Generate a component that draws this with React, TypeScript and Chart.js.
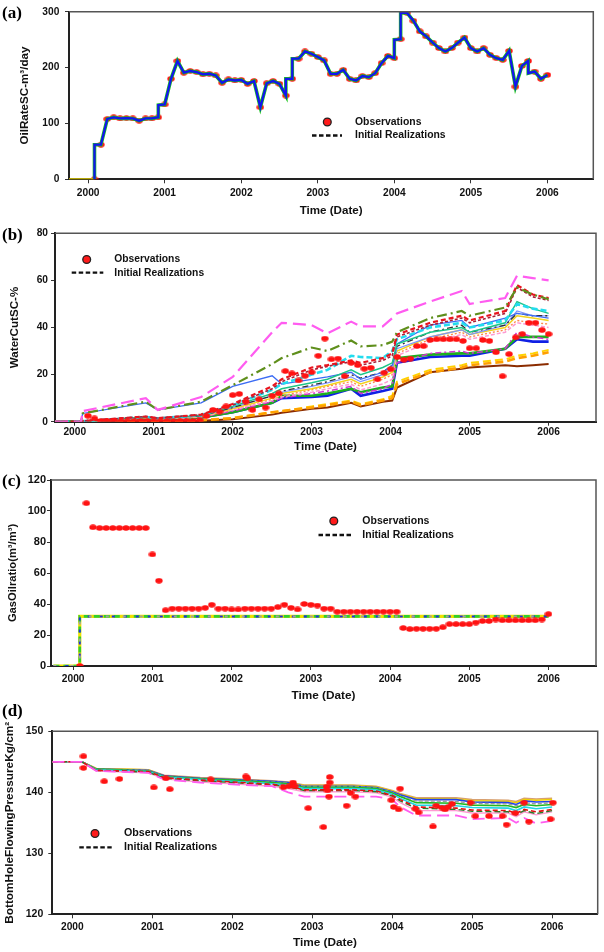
import React, { useEffect, useRef } from "react";
import { Chart, registerables } from "chart.js";
Chart.register(...registerables);

const FONT = "'Liberation Sans', Arial, Helvetica, sans-serif";
const SERIF = "'Liberation Serif', 'Times New Roman', serif";
const PAGE_W = 604;

const YEAR_TICKS = [2000, 2001, 2002, 2003, 2004, 2005, 2006];

// ---------------- (a) Oil rate ----------------
const obsAFirstMonth = 1;
const obsAValues = [
  0, 62, 108, 111, 109, 109.5, 109, 105, 109, 109, 111, 134,
  180, 212, 191, 194, 192, 188, 189, 186, 173, 179, 177, 178,
  171, 176, 129, 172, 176, 171, 150, 180, 216, 229, 225, 219,
  213, 189, 189, 196, 180, 177, 185, 183, 190, 208, 221, 217,
  251, 298, 284, 265, 256, 245, 235, 229, 235, 245, 254, 235,
  229, 235, 223, 217, 214, 230, 166, 203, 212, 193, 180, 187,
];
const simATimes = [
  2000.083, 2000.083, 2000.167, 2000.25, 2000.333, 2000.417, 2000.5, 2000.583, 2000.667, 2000.75, 2000.833,
  2000.917, 2000.917, 2001.0, 2001.083, 2001.167, 2001.25, 2001.333, 2001.417, 2001.5, 2001.583, 2001.667,
  2001.75, 2001.833, 2001.917, 2002.0, 2002.083, 2002.167, 2002.25, 2002.333, 2002.417, 2002.5, 2002.583,
  2002.583, 2002.667, 2002.667, 2002.75, 2002.833, 2002.917, 2003.0, 2003.083, 2003.167, 2003.25, 2003.333,
  2003.417, 2003.5, 2003.583, 2003.667, 2003.75, 2003.833, 2003.917, 2004.0, 2004.0, 2004.083, 2004.083,
  2004.167, 2004.25, 2004.333, 2004.417, 2004.5, 2004.583, 2004.667, 2004.75, 2004.833, 2004.917, 2005.0,
  2005.083, 2005.167, 2005.25, 2005.333, 2005.417, 2005.5, 2005.583, 2005.667, 2005.75, 2005.75, 2005.833,
  2005.917, 2006.0,
];
const simAValues = [
  0, 62, 62, 108, 111, 109, 109.5, 109, 105, 109, 109,
  111, 133, 134, 180, 212, 191, 194, 192, 188, 189, 186,
  173, 179, 177, 178, 171, 176, 129, 172, 176, 171, 150,
  180, 180, 216, 216, 229, 225, 219, 213, 189, 189, 196,
  180, 177, 185, 183, 190, 208, 221, 217, 250, 251, 298,
  298, 284, 265, 256, 245, 235, 229, 235, 245, 254, 235,
  229, 235, 223, 217, 214, 230, 166, 203, 212, 190, 193,
  180, 187,
];
const preATimes = [1999.75, 2000.083];
const preAValues = [0, 0];

// ---------------- (b) Water cut ----------------
const obsBFirstMonth = 2;
const obsBValues = [
  2.5, 1.4, 0.3, 0.3, 0.3, 0.2, 0.2, 0.2, 0.3, 0.3,
  0.2, 0.2, 0.2, 0.2, 0.3, 0.3, 0.3, 0.6, 2.4, 5.0, 4.3, 6.5,
  11.3, 11.8, 8.5, 5.0, 9.5, 6.0, 11.0, 12.0, 21.5, 20.5, 17.5, 19.5,
  21.0, 28.0, 35.3, 26.5, 26.8, 19.3, 25.0, 24.0, 22.5, 22.9, 18.0, 20.8,
  22.3, 27.5, 26.3, 26.8, 32.1, 32.1, 34.7, 35.0, 35.0, 35.0, 35.0, 34.3,
  31.2, 31.2, 34.7, 34.3, 29.5, 19.3, 28.7, 35.8, 37.2, 42.0, 42.0, 38.9,
  37.2,
];
const simBTimes = [1999.75, 2000.08, 2000.1, 2000.9, 2001.05, 2001.6, 2002.0, 2002.5, 2002.62, 2003.0, 2003.2, 2003.5,
  2003.62, 2003.9, 2004.02, 2004.08, 2004.5, 2004.9, 2005.0, 2005.45, 2005.6, 2005.8, 2006.0];
const wcMagenta = [0, 0, 4.5, 10, 5, 10.5, 19, 38, 42, 41, 37.5, 42.5, 40.5, 40.5, 44, 46, 51, 55.5, 50, 52.5, 62, 61, 60];
const wcOlive = [0, 0, 3.5, 8.5, 5, 8.5, 15.5, 24.5, 27, 31.5, 30, 34.5, 32, 32.5, 34, 38, 44, 47, 45, 48.5, 57, 54, 52];
const wcBlueThin = [0, 0, 3.5, 8, 5, 8, 15, 19.5, 16, 18, 19, 21, 18, 21, 24, 33, 41, 43, 40, 44, 46, 45, 44];
const wcRed = [0, 0, 0.3, 2.2, 1.5, 3, 7.5, 15, 18, 23, 24, 26, 25, 27, 29, 37, 42, 45, 43, 47, 58, 54, 52.5];
const wcMaroon = [0, 0, 0.3, 2.2, 1.5, 3, 7, 14, 17, 22, 23.5, 25.5, 24, 26, 28, 36, 41, 44, 42, 46, 57, 53, 51.5];
const wcCyan = [0, 0, 0.2, 2, 1.4, 2.8, 7, 13.5, 16, 20, 22, 28, 27.5, 27, 30, 35, 40, 42, 40, 43, 50, 48, 47];
const wcTeal = [0, 0, 0.2, 2, 1.4, 2.6, 6.5, 12, 14, 16.5, 18, 22, 20, 23, 25, 33, 38, 40, 38, 42, 51, 48, 46];
const wcGray = [0, 0, 0.2, 1.8, 1.3, 2.5, 6, 11, 13, 15.5, 17, 20, 18.5, 21, 24, 32, 38, 41, 38, 41, 46, 45, 45];
const wcLightBlue = [0, 0, 0.2, 1.8, 1.3, 2.4, 6, 11, 12.5, 15, 16.5, 19, 17, 20, 22, 31, 36, 39, 37, 41, 47, 45, 45];
const wcYellow = [0, 0, 0.2, 1.6, 1.2, 2.3, 5.5, 10, 12, 14, 15.5, 18, 16, 19, 21, 30, 36, 39, 37, 40, 45, 44, 43];
const wcPink = [0, 0, 0.1, 1.5, 1.1, 2, 5, 9, 10.5, 12.5, 14, 16, 13.5, 16, 18, 28, 34, 37, 35, 38, 42, 41, 40];
const wcSalmon = [0, 0, 0.1, 1.5, 1.1, 2, 5, 9.5, 11, 13.5, 15, 17, 15, 18, 20, 29, 35, 38, 36, 39, 43, 42, 41.5];
const wcPurple = [0, 0, 0.1, 1.4, 1, 2, 4.5, 8.5, 10, 12, 13, 15, 12, 14, 16, 25, 29, 30, 29, 31, 38, 36, 35];
const wcGreen = [0, 0, 0.1, 1.2, 1, 1.8, 4, 8, 11, 11, 12, 14, 12.5, 14.5, 15, 27, 28.5, 29, 29, 31, 36, 36, 36];
const wcBlue = [0, 0, 0.1, 1.2, 1, 1.8, 4, 8, 10, 10.5, 11, 14, 11, 13, 14, 25, 27.5, 28, 28, 31, 35, 34, 34];
const wcOrange = [0, 0, 0, 0.3, 0.3, 0.6, 1.5, 4, 4.5, 6, 7, 8.5, 7, 9, 10, 16, 21, 23, 24, 25.5, 27, 28, 29.5];
const wcGold = [0, 0, 0, 0.3, 0.3, 0.6, 1.5, 4, 4.5, 6.5, 7.5, 9, 7.5, 9.5, 11, 17, 22, 24, 25, 26.5, 28, 29, 30.5];
const wcBrown = [0, 0, 0, 0.2, 0.2, 0.4, 1, 3, 3.8, 5.5, 6, 8, 6.5, 8.5, 9, 14.5, 21, 22.5, 23, 24, 23.5, 24, 24.5];

// ---------------- (c) Gas oil ratio ----------------
const obsCFirstMonth = 1;
const obsCValues = [
  0, 105, 89.5, 89, 89, 89, 89, 89, 89, 89, 89, 72,
  55, 36, 37, 37, 37, 37, 37, 37.5, 39.5, 37, 37, 36.5,
  36.5, 37, 37, 37, 37, 37, 38, 39.5, 37.5, 36.5, 40, 39.5,
  39, 37, 37, 35, 35, 35, 35, 35, 35, 35, 35, 35,
  35, 24.5, 23.8, 24, 24, 24, 24, 25, 27, 27, 27, 27,
  28, 29, 29, 30, 29.5, 29.5, 29.5, 29.5, 29.5, 29.5, 30, 33.5,
];
const simCTimes = [1999.75, 2000.083, 2000.083, 2006.0];
const simCValues = [0, 0, 32, 32];

// ---------------- (d) Bottom hole pressure ----------------
const obsDTimes = [
  2000.14, 2000.14, 2000.4, 2000.59, 2001.02, 2001.17, 2001.22, 2001.73, 2002.17, 2002.19, 2002.64, 2002.71,
  2002.76, 2002.78, 2002.95, 2003.14, 2003.18, 2003.19, 2003.21, 2003.22, 2003.22, 2003.43, 2003.48, 2003.54,
  2003.99, 2004.02, 2004.08, 2004.1, 2004.29, 2004.33, 2004.51, 2004.55, 2004.62, 2004.66, 2004.7, 2004.75,
  2004.98, 2005.04, 2005.21, 2005.38, 2005.43, 2005.54, 2005.65, 2005.71, 2005.98, 2006.01,
];
const obsDValues = [
  145.9, 144.0, 141.8, 142.2, 140.8, 142.3, 140.5, 142.1, 142.6, 142.3, 140.8, 141.0,
  141.6, 141.0, 137.4, 134.3, 140.9, 140.3, 139.3, 142.5, 141.6, 137.8, 139.9, 139.3,
  138.7, 137.6, 137.2, 140.6, 137.3, 136.7, 134.4, 137.8, 137.5, 137.2, 137.6, 138.1,
  138.3, 136.1, 136.1, 136.1, 134.7, 136.6, 138.3, 135.2, 135.6, 138.3,
];
const simDTimes = [1999.75, 2000.12, 2000.3, 2000.95, 2001.15, 2001.6, 2002.0, 2002.5, 2002.7, 2002.9, 2003.5,
  2003.8, 2004.0, 2004.1, 2004.3, 2004.8, 2005.0, 2005.45, 2005.55, 2005.65, 2005.8, 2006.0];
const bhpTan = [145, 145, 143.9, 143.7, 142.8, 142.4, 142.2, 141.9, 141.7, 141.2, 141.2, 141.0, 140.3, 139.8, 139.1, 139.1, 138.8, 138.7, 138.5, 139.0, 138.9, 139.0];
const bhpYellow = [145, 145, 143.9, 143.7, 142.7, 142.3, 142.1, 141.8, 141.6, 141.1, 141.1, 140.9, 140.2, 139.7, 139.0, 138.9, 138.6, 138.5, 138.3, 138.8, 138.7, 138.8];
const bhpBlue = [145, 145, 143.8, 143.6, 142.7, 142.3, 142.1, 141.8, 141.6, 141.0, 141.0, 140.8, 140.1, 139.6, 138.8, 138.8, 138.4, 138.3, 138.0, 138.6, 138.4, 138.5];
const bhpGray = [145, 145, 143.8, 143.6, 142.6, 142.2, 142.0, 141.7, 141.5, 141.0, 141.0, 140.7, 140.0, 139.4, 138.6, 138.5, 138.2, 138.1, 137.8, 138.3, 138.1, 138.3];
const bhpGreen = [145, 145, 143.8, 143.5, 142.6, 142.2, 142.0, 141.6, 141.4, 140.8, 140.8, 140.6, 139.9, 139.3, 138.3, 138.2, 137.9, 137.8, 137.5, 138.0, 137.8, 138.0];
const bhpCyan = [145, 145, 143.7, 143.4, 142.5, 142.1, 141.8, 141.4, 141.2, 140.6, 140.6, 140.4, 139.7, 139.0, 137.9, 137.8, 137.5, 137.4, 137.0, 137.6, 137.3, 137.6];
const bhpRed = [145, 145, 143.6, 143.4, 142.4, 142.0, 141.7, 141.3, 141.0, 140.4, 140.4, 140.2, 139.5, 138.8, 137.6, 137.4, 137.1, 137.0, 136.5, 137.2, 136.8, 137.2];
const bhpDarkGreen = [145, 145, 143.6, 143.3, 142.3, 141.9, 141.6, 141.2, 140.9, 140.3, 140.3, 140.1, 139.4, 138.6, 137.4, 137.2, 136.9, 136.8, 136.3, 137.0, 136.5, 137.0];
const bhpPink = [145, 145, 143.5, 143.2, 142.2, 141.7, 141.4, 141.0, 140.6, 140.1, 140.1, 139.9, 139.2, 138.3, 137.0, 137.0, 136.6, 136.6, 136.0, 136.8, 136.3, 136.8];
const bhpMagenta = [145, 145, 143.5, 143.2, 142.1, 141.6, 141.3, 141.0, 140.0, 139.3, 139.3, 139.3, 138.8, 137.6, 136.2, 136.2, 135.6, 135.8, 135.0, 135.8, 134.9, 135.3];

// ---------------- helpers ----------------
const pts = (xs: number[], ys: number[]) => xs.map((x, i) => ({ x, y: ys[i] }));
const monthPts = (first: number, ys: number[]) => ys.map((y, i) => ({ x: 2000 + (first + i) / 12, y }));

let dotCache: HTMLCanvasElement | null = null;
function dot(): HTMLCanvasElement {
  if (dotCache) return dotCache;
  const c = document.createElement("canvas");
  c.width = 8;
  c.height = 6;
  const g = c.getContext("2d")!;
  g.fillStyle = "#ff1212";
  g.beginPath();
  g.ellipse(4, 3, 3.7, 2.7, 0, 0, Math.PI * 2);
  g.fill();
  dotCache = c;
  return c;
}

const line = (data: any[], color: string, width: number, dash: number[] = []) => ({
  data,
  borderColor: color,
  backgroundColor: color,
  borderWidth: width,
  borderDash: dash,
  pointRadius: 0,
  fill: false,
  tension: 0,
});
const obs = (data: any[]) => ({
  data,
  showLine: false,
  pointStyle: dot(),
  pointRadius: 4,
  borderWidth: 0,
  borderColor: "#ff1212",
  backgroundColor: "#ff1212",
});

const decorPlugin = {
  id: "decor",
  afterDraw(chart: any, _args: any, o: any) {
    const { ctx, chartArea: a } = chart;
    ctx.save();
    ctx.strokeStyle = "#555";
    ctx.lineWidth = 1.5;
    ctx.setLineDash([]);
    ctx.beginPath();
    ctx.moveTo(a.left, a.top);
    ctx.lineTo(a.right, a.top);
    ctx.lineTo(a.right, a.bottom);
    ctx.stroke();

    ctx.fillStyle = "#000";
    ctx.font = `bold 17px ${SERIF}`;
    ctx.textAlign = "left";
    ctx.textBaseline = "middle";
    ctx.fillText(o.label, 2, o.labelY);

    const L = o.legend;
    ctx.beginPath();
    ctx.arc(L.markerX, L.obsY, 3.9, 0, Math.PI * 2);
    ctx.fillStyle = "#ff1a1a";
    ctx.fill();
    ctx.lineWidth = 1.3;
    ctx.strokeStyle = "#222";
    ctx.stroke();

    ctx.beginPath();
    ctx.setLineDash([4.5, 2.5]);
    ctx.lineWidth = 2.3;
    ctx.strokeStyle = "#111";
    ctx.moveTo(L.dashX1, L.irY);
    ctx.lineTo(L.dashX2, L.irY);
    ctx.stroke();
    ctx.setLineDash([]);

    ctx.fillStyle = "#111";
    ctx.font = `bold ${L.size}px ${FONT}`;
    ctx.fillText("Observations", L.textX, L.obsY);
    ctx.fillText("Initial Realizations", L.textX, L.irY);
    ctx.restore();
  },
};

type Spec = {
  key: string;
  top: number;
  height: number;
  plotLeft: number;
  plotRight: number;
  plotTop: number;
  plotBottom: number;
  xMin: number;
  xMax: number;
  yMin: number;
  yMax: number;
  yStep: number;
  yTitle: string;
  yTitleSize: number;
  yTitleX: number;
  yTickSize: number;
  yTickRight: number;
  xTickSize: number;
  xTickCenter: number;
  xTitleSize: number;
  xTitleCenter: number;
  label: string;
  labelY: number;
  legend: any;
  datasets: () => any[];
};

function Panel({ spec }: { spec: Spec }) {
  const ref = useRef<HTMLCanvasElement>(null);
  useEffect(() => {
    const s = spec;
    const canvas = ref.current!;
    const bottomPage = s.top + s.height;
    const xHeight = bottomPage - s.plotBottom;
    const tickLen = 4;
    const chart = new Chart(canvas, {
      type: "line",
      data: { datasets: s.datasets() },
      options: {
        responsive: false,
        animation: false,
        devicePixelRatio: 1,
        events: [],
        layout: { padding: { top: s.plotTop - s.top, right: PAGE_W - s.plotRight, left: 0, bottom: 0 } },
        plugins: {
          legend: { display: false },
          tooltip: { enabled: false },
          decor: {
            label: s.label,
            labelY: s.labelY - s.top,
            legend: { ...s.legend, obsY: s.legend.obsY - s.top, irY: s.legend.irY - s.top },
          },
        } as any,
        scales: {
          x: {
            type: "linear",
            min: s.xMin,
            max: s.xMax,
            afterBuildTicks: (sc: any) => {
              sc.ticks = YEAR_TICKS.map((v) => ({ value: v }));
            },
            afterFit: (sc: any) => {
              sc.height = xHeight;
            },
            ticks: {
              font: { family: FONT, size: s.xTickSize, weight: "bold" },
              color: "#111",
              padding: s.xTickCenter - s.plotBottom - tickLen - 0.6 * s.xTickSize,
              maxRotation: 0,
              autoSkip: false,
              callback: (v: any) => String(v),
            },
            grid: { display: true, drawOnChartArea: false, drawTicks: true, tickLength: tickLen, color: "#333", lineWidth: 1 },
            border: { display: true, color: "#222", width: 2 },
            title: {
              display: true,
              text: "Time (Date)",
              color: "#111",
              font: { family: FONT, size: s.xTitleSize, weight: "bold" },
              padding: { top: 0, bottom: bottomPage - s.xTitleCenter - 0.6 * s.xTitleSize },
            },
          },
          y: {
            type: "linear",
            min: s.yMin,
            max: s.yMax,
            afterFit: (sc: any) => {
              sc.width = s.plotLeft;
            },
            ticks: {
              stepSize: s.yStep,
              font: { family: FONT, size: s.yTickSize, weight: "bold" },
              color: "#111",
              padding: s.plotLeft - tickLen - s.yTickRight,
            },
            grid: { display: true, drawOnChartArea: false, drawTicks: true, tickLength: tickLen, color: "#333", lineWidth: 1 },
            border: { display: true, color: "#222", width: 2 },
            title: {
              display: true,
              text: s.yTitle,
              color: "#111",
              font: { family: FONT, size: s.yTitleSize, weight: "bold" },
              padding: { top: s.yTitleX - 0.6 * s.yTitleSize, bottom: 0 },
            },
          },
        },
      } as any,
      plugins: [decorPlugin as any],
    });
    return () => chart.destroy();
  }, [spec]);
  return (
    <canvas
      ref={ref}
      width={PAGE_W}
      height={spec.height}
      style={{ position: "absolute", left: 0, top: spec.top, width: PAGE_W, height: spec.height, display: "block" }}
    />
  );
}

const SPECS: Spec[] = [
  {
    key: "a",
    top: 0,
    height: 222,
    plotLeft: 69,
    plotRight: 593.3,
    plotTop: 5.7,
    plotBottom: 179.3,
    xMin: 1999.75,
    xMax: 2006.6,
    yMin: 0,
    yMax: 300,
    yStep: 100,
    yTitle: "OilRateSC-m³/day",
    yTitleSize: 11.6,
    yTitleX: 25,
    yTickSize: 10.2,
    yTickRight: 59.3,
    xTickSize: 10.2,
    xTickCenter: 193,
    xTitleSize: 11.6,
    xTitleCenter: 210.7,
    label: "(a)",
    labelY: 13.3,
    legend: { markerX: 327.3, obsY: 122, textX: 355, irY: 135.5, dashX1: 312, dashX2: 342, size: 10.4 },
    datasets: () => [
      line(pts(simATimes, simAValues), "#1414ee", 2.3),
      line(pts(simATimes, simAValues), "#18c418", 3.6),
      line(pts(preATimes, preAValues), "#e8d400", 2),
      obs(monthPts(obsAFirstMonth, obsAValues)),
    ],
  },
  {
    key: "b",
    top: 222,
    height: 236,
    plotLeft: 55,
    plotRight: 596,
    plotTop: 233.3,
    plotBottom: 421.7,
    xMin: 1999.75,
    xMax: 2006.6,
    yMin: 0,
    yMax: 80,
    yStep: 20,
    yTitle: "WaterCutSC-%",
    yTitleSize: 11.6,
    yTitleX: 15,
    yTickSize: 10.2,
    yTickRight: 48,
    xTickSize: 10.2,
    xTickCenter: 432,
    xTitleSize: 11.6,
    xTitleCenter: 446.7,
    label: "(b)",
    labelY: 235.5,
    legend: { markerX: 86.7, obsY: 259.5, textX: 114.3, irY: 272.7, dashX1: 71.7, dashX2: 103.3, size: 10.3 },
    datasets: () => [
      obs(monthPts(obsBFirstMonth, obsBValues)),
      line(pts(simBTimes, wcMagenta), "#ff5cf0", 2.2, [13, 6]),
      line(pts(simBTimes, wcOlive), "#5f8f1c", 2.2, [10, 4, 2, 4]),
      line(pts(simBTimes, wcRed), "#e8141e", 2.2, [5, 3]),
      line(pts(simBTimes, wcMaroon), "#a8203a", 1.6, [3, 2]),
      line(pts(simBTimes, wcCyan), "#22dcee", 2.6, [6, 3]),
      line(pts(simBTimes, wcTeal), "#1cc488", 1.5),
      line(pts(simBTimes, wcBlueThin), "#3c6cf4", 1.3),
      line(pts(simBTimes, wcGray), "#333333", 1.3, [6, 3, 2, 3]),
      line(pts(simBTimes, wcLightBlue), "#7c94ff", 1.2),
      line(pts(simBTimes, wcYellow), "#f2d21c", 1.5),
      line(pts(simBTimes, wcPink), "#ff9ad2", 1.5, [4, 2]),
      line(pts(simBTimes, wcSalmon), "#ff8a4c", 1.4, [2, 2]),
      line(pts(simBTimes, wcPurple), "#d434d4", 1.5, [6, 3, 2, 3]),
      line(pts(simBTimes, wcGreen), "#1eae1e", 2.6),
      line(pts(simBTimes, wcBlue), "#1020e4", 2.6),
      line(pts(simBTimes, wcOrange), "#ffa000", 2.6, [8, 4]),
      line(pts(simBTimes, wcGold), "#ffd200", 2, [8, 4]),
      line(pts(simBTimes, wcBrown), "#8b2c00", 2),
    ],
  },
  {
    key: "c",
    top: 458,
    height: 246,
    plotLeft: 51,
    plotRight: 596,
    plotTop: 480,
    plotBottom: 666,
    xMin: 1999.72,
    xMax: 2006.6,
    yMin: 0,
    yMax: 120,
    yStep: 20,
    yTitle: "GasOilratio(m³/m³)",
    yTitleSize: 11.2,
    yTitleX: 12.7,
    yTickSize: 11,
    yTickRight: 46,
    xTickSize: 10.2,
    xTickCenter: 679.3,
    xTitleSize: 11.8,
    xTitleCenter: 696,
    label: "(c)",
    labelY: 481.7,
    legend: { markerX: 333.8, obsY: 521, textX: 362.3, irY: 535, dashX1: 318.5, dashX2: 353, size: 10.5 },
    datasets: () => [
      obs(monthPts(obsCFirstMonth, obsCValues)),
      line(pts(simCTimes, simCValues), "#a0a0a0", 2, [3, 14]),
      line(pts(simCTimes, simCValues), "#1e2ee6", 2, [3, 9]),
      line(pts(simCTimes, simCValues), "#2ed02e", 2.6, [6, 4]),
      line(pts(simCTimes, simCValues), "#f0e000", 3.2),
    ],
  },
  {
    key: "d",
    top: 704,
    height: 248,
    plotLeft: 52.3,
    plotRight: 597.7,
    plotTop: 731.3,
    plotBottom: 914.3,
    xMin: 1999.75,
    xMax: 2006.57,
    yMin: 120,
    yMax: 150,
    yStep: 10,
    yTitle: "BottomHoleFlowingPressureKg/cm²",
    yTitleSize: 11.8,
    yTitleX: 9.3,
    yTickSize: 10.5,
    yTickRight: 43.3,
    xTickSize: 10.2,
    xTickCenter: 927,
    xTitleSize: 11.8,
    xTitleCenter: 943,
    label: "(d)",
    labelY: 711.7,
    legend: { markerX: 95, obsY: 833.5, textX: 124, irY: 847.3, dashX1: 79.3, dashX2: 111.7, size: 10.7 },
    datasets: () => [
      obs(pts(obsDTimes, obsDValues)),
      line(pts(simDTimes, bhpMagenta), "#ff5cf0", 1.8, [12, 6]),
      line(pts(simDTimes, bhpRed), "#e01010", 1.6, [5, 3]),
      line(pts(simDTimes, bhpDarkGreen), "#2a7a2a", 1.4, [6, 3]),
      line(pts(simDTimes, bhpPink), "#ff9ad2", 1.4),
      line(pts(simDTimes, bhpCyan), "#22d4e4", 1.6),
      line(pts(simDTimes, bhpGreen), "#22b822", 1.6),
      line(pts(simDTimes, bhpGray), "#9a9a9a", 1.4, [4, 2]),
      line(pts(simDTimes, bhpBlue), "#2040f0", 1.6),
      line(pts(simDTimes, bhpYellow), "#f0d000", 1.5),
      line(pts(simDTimes, bhpTan), "#d8a070", 1.6),
    ],
  },
];

export default function App() {
  return (
    <div style={{ position: "absolute", left: 0, top: 0, width: PAGE_W, height: 952, background: "#fff", overflow: "hidden" }}>
      {SPECS.map((s) => (
        <Panel key={s.key} spec={s} />
      ))}
    </div>
  );
}
